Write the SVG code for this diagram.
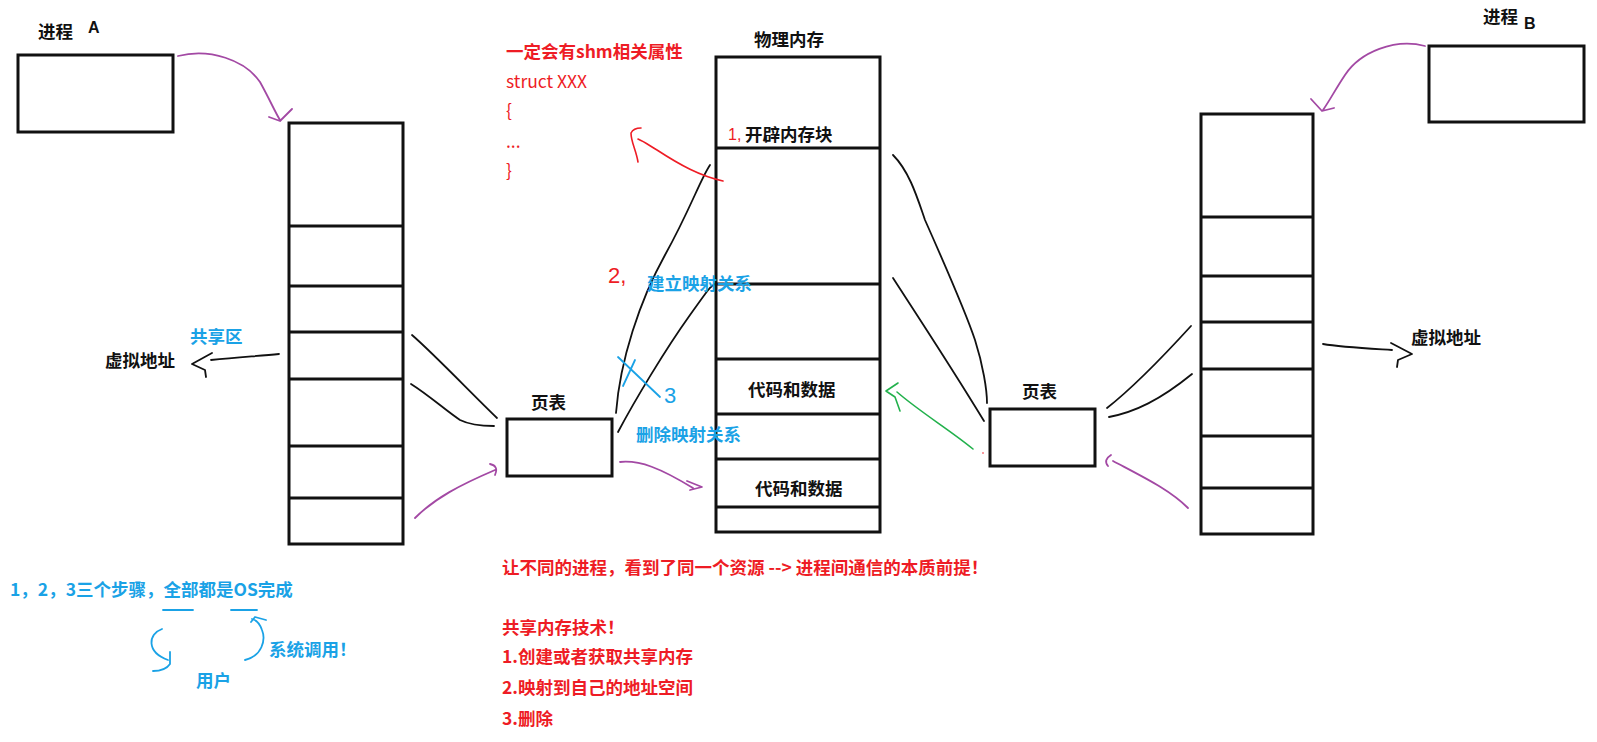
<svg xmlns="http://www.w3.org/2000/svg" width="1597" height="742" viewBox="0 0 1597 742">
<style>
.box{fill:#fff;stroke:#111;stroke-width:3}
.div{stroke:#111;stroke-width:3}
.lbl{font-family:"Noto Sans CJK SC","Noto Sans",sans-serif;font-weight:bold;font-size:17.5px;fill:#111}
.red{fill:#ee1c25}
.blue{fill:#1aa2e6}
.plain{font-weight:normal}
.hand{font-family:"Liberation Sans",sans-serif;font-weight:normal}
.cap{font-family:"Liberation Sans",sans-serif;font-weight:bold;font-size:16px;fill:#111}
.ink{fill:none;stroke:#111;stroke-width:1.8;stroke-linecap:round;stroke-linejoin:round}
.pur{fill:none;stroke:#a349a4;stroke-width:1.8;stroke-linecap:round;stroke-linejoin:round}
.grn{fill:none;stroke:#22b14c;stroke-width:1.6;stroke-linecap:round;stroke-linejoin:round}
.rd{fill:none;stroke:#ee1c25;stroke-width:1.6;stroke-linecap:round;stroke-linejoin:round}
.bl{fill:none;stroke:#1aa2e6;stroke-width:1.8;stroke-linecap:round;stroke-linejoin:round}
</style>
<rect width="1597" height="742" fill="#fff"/>

<g id="processA">
<rect class="box" x="18" y="55" width="155" height="77"/>
<text class="lbl" x="38" y="38">进程</text>
<text class="cap" x="88" y="33">A</text>
</g>

<g id="processB">
<rect class="box" x="1429" y="46" width="155" height="76"/>
<text class="lbl" x="1483" y="23">进程</text>
<text class="cap" x="1524" y="29">B</text>
</g>

<g id="vmA">
<rect class="box" x="289" y="123" width="114" height="421"/>
<path class="div" d="M289,226H403M289,286H403M289,332H403M289,379H403M289,446H403M289,498H403"/>
</g>

<g id="vmB">
<rect class="box" x="1201" y="114" width="112" height="420"/>
<path class="div" d="M1201,217H1313M1201,276H1313M1201,322H1313M1201,369H1313M1201,436H1313M1201,488H1313"/>
</g>

<g id="physMem">
<rect class="box" x="716" y="57" width="164" height="475"/>
<path class="div" d="M716,148H880M716,284H880M716,359H880M716,414H880M716,459H880M716,507H880"/>
<text class="lbl" x="754" y="46">物理内存</text>
<text class="lbl" x="745" y="141">开辟内存块</text>
<text class="lbl" x="748" y="396">代码和数据</text>
<text class="lbl" x="755" y="495">代码和数据</text>
</g>

<g id="pageTableA">
<rect class="box" x="507" y="419" width="105" height="57"/>
<text class="lbl" x="531" y="409">页表</text>
</g>

<g id="pageTableB">
<rect class="box" x="990" y="409" width="105" height="57"/>
<text class="lbl" x="1022" y="398">页表</text>
</g>

<g id="connectors">
<path class="ink" d="M412,335C435,355 470,392 497,418"/>
<path class="ink" d="M411,384C430,396 445,410 460,420C470,425 480,426 494,426"/>
<path class="ink" d="M616,413C620,360 640,300 665,255S700,180 710,165"/>
<path class="ink" d="M618,432C635,400 665,350 690,315S708,290 716,283"/>
<path class="ink" d="M893,155C910,172 918,200 925,220C945,265 965,310 975,340C983,365 987,390 987,403"/>
<path class="ink" d="M893,278C915,312 950,365 984,421"/>
<path class="ink" d="M1107,408C1130,390 1160,360 1191,326"/>
<path class="ink" d="M1109,417C1135,412 1160,400 1192,374"/>
<path class="ink" d="M279,354C260,356 240,357 211,360M212,353L192,364L205,370L206,377"/>
<path class="ink" d="M1323,344C1340,347 1360,348 1392,350M1391,343L1412,354L1398,360L1397,367"/>
<path class="pur" d="M178,56C210,48 245,60 260,82C270,100 275,112 280,120M269,117L280,121L292,109"/>
<path class="pur" d="M415,518C435,498 460,485 495,470M490,464Q499,466 495,475"/>
<path class="pur" d="M620,462C640,460 660,468 693,488M687,481L702,487L690,490"/>
<path class="pur" d="M1425,46C1395,38 1360,52 1345,75C1335,90 1330,100 1323,110M1311,99L1322,111L1334,108"/>
<path class="pur" d="M1188,508C1170,490 1145,478 1113,461M1111,455Q1103,460 1108,466"/>
<path class="grn" d="M973,449C950,430 920,412 897,392M898,383L886,391L895,397L900,411"/>
<circle cx="983" cy="453" r="0.8" fill="#ee1c25"/>
<path class="rd" d="M723,181C700,176 680,165 657,150C650,146 645,142 638,139M638,162C636,150 631,142 631,133C633,129 637,128 641,128"/>
<path class="bl" d="M618,357L660,397M635,360L623,386"/>
<path class="bl" d="M163,610H193M231,610H257"/>
<path class="bl" d="M162,629C148,634 146,652 168,660M170,652L170,664C166,670 160,671 153,671"/>
<path class="bl" d="M245,660C262,656 266,640 262,630C260,624 256,620 252,619M251,622L255,617L266,620"/>
</g>

<g id="notes">
<text class="lbl red" x="506" y="58">一定会有shm相关属性</text>
<text class="lbl red plain" x="506" y="88">struct XXX</text>
<text class="lbl red plain" x="506" y="117">{</text>
<text class="lbl red plain" x="506" y="148">...</text>
<text class="lbl red plain" x="506" y="177">}</text>
<text class="red hand" x="728" y="140" font-size="16">1,</text>
<text class="red hand" x="608" y="283" font-size="22">2,</text>
<text class="lbl blue" x="647" y="290">建立映射关系</text>
<text class="lbl blue" x="636" y="441">删除映射关系</text>
<text class="blue hand" x="664" y="403" font-size="22">3</text>
<text class="lbl blue" x="190" y="343">共享区</text>
<text class="lbl" x="105" y="367">虚拟地址</text>
<text class="lbl" x="1411" y="344">虚拟地址</text>
<text class="lbl red" x="502" y="574">让不同的进程，看到了同一个资源 --&gt; 进程间通信的本质前提！</text>
<text class="lbl red" x="502" y="634">共享内存技术！</text>
<text class="lbl red" x="502" y="663">1.创建或者获取共享内存</text>
<text class="lbl red" x="502" y="694">2.映射到自己的地址空间</text>
<text class="lbl red" x="502" y="725">3.删除</text>
<text class="lbl blue" x="10" y="596">1，2，3三个步骤，全部都是OS完成</text>
<text class="lbl blue" x="269" y="656">系统调用！</text>
<text class="lbl blue" x="196" y="687">用户</text>
</g>
</svg>
